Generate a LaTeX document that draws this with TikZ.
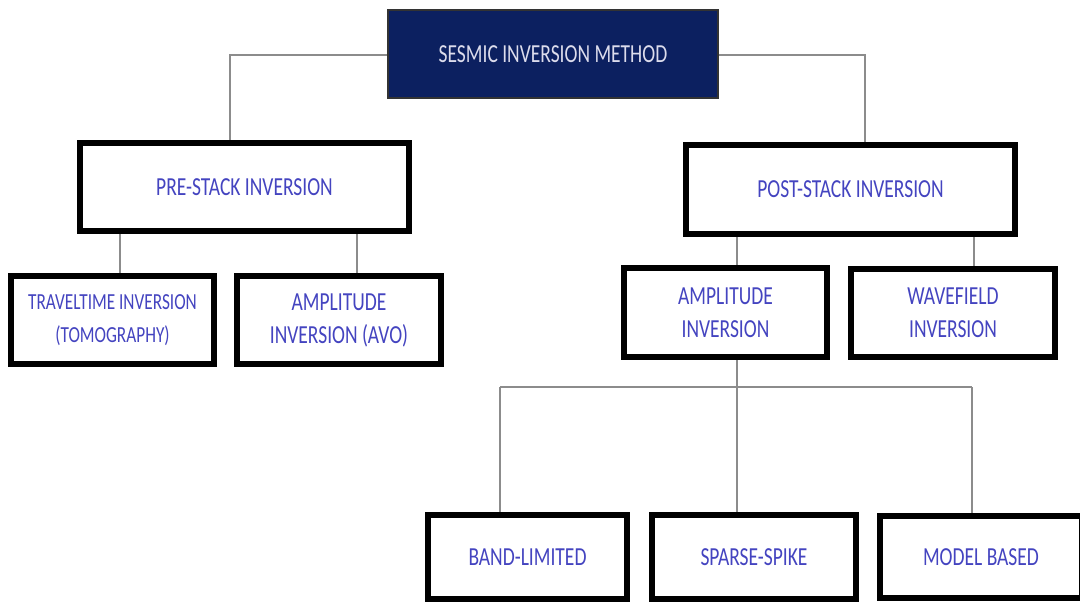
\documentclass[tikz,border=0pt]{standalone}
\usepackage{fontspec}
\usetikzlibrary{backgrounds}
\newfontfamily\lab[FakeStretch=0.75]{Carlito}
\definecolor{txtblue}{HTML}{4444C0}
\definecolor{navy}{HTML}{0C2060}
\definecolor{linegray}{HTML}{8C8C8C}
\definecolor{toptxt}{HTML}{DCDCEC}
\tikzset{
  box/.style={draw=black, line width=6pt, fill=white, rectangle, inner sep=0pt, outer sep=0pt,
    align=center, text=txtblue, font=\lab\fontsize{26}{33}\selectfont},
  topbox/.style={draw=black!80, line width=1.2pt, fill=navy, rectangle, inner sep=0pt, outer sep=0pt,
    align=center, text=toptxt, font=\lab\fontsize{26}{33}\selectfont},
  conn/.style={draw=linegray, line width=1.4pt}
}
\begin{document}
\begin{tikzpicture}[x=1pt,y=-1pt]
\useasboundingbox (0,0) rectangle (1080,603);
\node[topbox, minimum width=330pt, minimum height=88pt] (top) at (553,54) {SESMIC INVERSION METHOD};
\node[box, minimum width=329pt, minimum height=88pt] (pre) at (244.5,187) {PRE-STACK INVERSION};
\node[box, minimum width=203pt, minimum height=88pt, font=\lab\fontsize{23}{33}\selectfont] (trav) at (112.5,320) {TRAVELTIME INVERSION\\(TOMOGRAPHY)};
\node[box, minimum width=204pt, minimum height=88pt] (avo) at (339,320) {AMPLITUDE\\INVERSION (AVO)};
\node[box, minimum width=329pt, minimum height=89pt] (post) at (850.5,189.5) {POST-STACK INVERSION};
\node[box, minimum width=203pt, minimum height=89pt] (amp) at (725.5,312.5) {AMPLITUDE\\INVERSION};
\node[box, minimum width=204pt, minimum height=88pt] (wave) at (953,313) {WAVEFIELD\\INVERSION};
\node[box, minimum width=199pt, minimum height=84pt] (band) at (527.5,557) {BAND-LIMITED};
\node[box, minimum width=204pt, minimum height=84pt] (sparse) at (754,557) {SPARSE-SPIKE};
\node[box, minimum width=202pt, minimum height=82pt] (model) at (981,557) {MODEL BASED};
\coordinate (tl) at (230,55);
\coordinate (tr) at (865,55);
\coordinate (xt) at (120,0);
\coordinate (xa) at (357,0);
\coordinate (xp) at (737,0);
\coordinate (xw) at (974,0);
\coordinate (hb) at (0,387);
\coordinate (xb) at (500,0);
\coordinate (xm) at (972,0);
\begin{scope}[on background layer]
\draw[conn] (top.west |- tl) -- (tl) -- (pre.north -| tl);
\draw[conn] (top.east |- tr) -- (tr) -- (post.north -| tr);
\draw[conn] (pre.south -| xt) -- (trav.north -| xt);
\draw[conn] (pre.south -| xa) -- (avo.north -| xa);
\draw[conn] (post.south -| xp) -- (amp.north -| xp);
\draw[conn] (post.south -| xw) -- (wave.north -| xw);
\draw[conn] (amp.south -| xp) -- (sparse.north -| xp);
\draw[conn] (hb -| xb) -- (hb -| xm);
\draw[conn] (hb -| xb) -- (band.north -| xb);
\draw[conn] (hb -| xm) -- (model.north -| xm);
\end{scope}
\end{tikzpicture}
\end{document}
